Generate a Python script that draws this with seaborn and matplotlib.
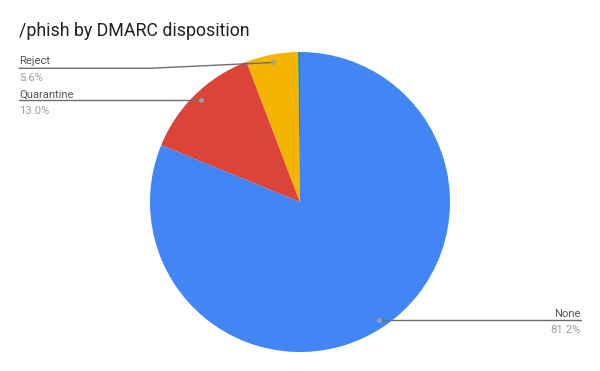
import numpy as np
import matplotlib
matplotlib.use("Agg")
import matplotlib.pyplot as plt
import seaborn as sns

# ---- data ----
categories = ["None", "Quarantine", "Reject", "Other"]
shares = [81.2, 13.0, 5.6, 0.2]
pct_labels = ["81.2%", "13.0%", "5.6%", ""]
colors = ["#4285F4", "#DB4437", "#F4B400", "#0F9D58"]
title = "/phish by DMARC disposition"

sns.set_theme(style="white")
plt.rcParams["font.family"] = ["Roboto", "DejaVu Sans"]

W, H = 600, 371
fig = plt.figure(figsize=(W / 100, H / 100), dpi=100)
ax = fig.add_axes([0, 0, 1, 1])

def Y(yp):
    return H - yp

cx, cy, R = 300, 202, 150
wedges, _ = ax.pie(shares, colors=colors, startangle=90, counterclock=False,
                   center=(cx, Y(cy)), radius=R,
                   wedgeprops=dict(linewidth=0))
ax.set_xlim(0, W)
ax.set_ylim(0, H)
ax.set_aspect("auto")
ax.axis("off")

fig.text(19 / W, 1 - 36 / H, title, fontsize=12.8, color="#212121",
         ha="left", va="baseline")

def dot_pos(w):
    mid = np.deg2rad((w.theta1 + w.theta2) / 2)
    r = 0.947 * w.r
    return w.center[0] + r * np.cos(mid), w.center[1] + r * np.sin(mid)

line_c = "#6e6e6e"
lab_c = "#555555"
pct_c = "#9e9e9e"
fs = 8.1

# None (right side)
dx, dy = dot_pos(wedges[0])
ax.plot([dx, 581], [dy, dy], color=line_c, lw=1)
ax.plot(dx, dy, "o", ms=3.5, color="#9e9e9e", mec="none")
ax.text(581, Y(316.7), categories[0], ha="right", va="baseline", fontsize=fs, color=lab_c)
ax.text(581, Y(332.7), pct_labels[0], ha="right", va="baseline", fontsize=fs, color=pct_c)

# Quarantine (left)
dx, dy = dot_pos(wedges[1])
ax.plot([19, dx], [dy, dy], color=line_c, lw=1)
ax.plot(dx, dy, "o", ms=3.5, color="#9e9e9e", mec="none")
ax.text(19, Y(97.3), categories[1], ha="left", va="baseline", fontsize=fs, color=lab_c)
ax.text(19, Y(113.7), pct_labels[1], ha="left", va="baseline", fontsize=fs, color=pct_c)

# Reject (left)
dx, dy = dot_pos(wedges[2])
ax.plot([19, 150, dx], [Y(68.3), Y(68.3), dy], color=line_c, lw=1)
ax.plot(dx, dy, "o", ms=3.5, color="#9e9e9e", mec="none")
ax.text(19, Y(64.3), categories[2], ha="left", va="baseline", fontsize=fs, color=lab_c)
ax.text(19, Y(81), pct_labels[2], ha="left", va="baseline", fontsize=fs, color=pct_c)

fig.savefig("out.png", dpi=100, facecolor="white")
